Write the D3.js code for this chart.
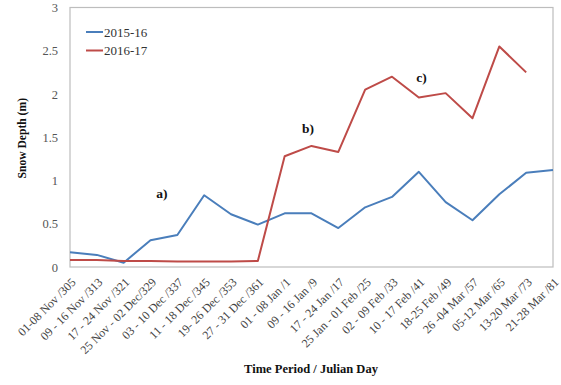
<!DOCTYPE html>
<html>
<head>
<meta charset="utf-8">
<script src="https://cdn.jsdelivr.net/npm/d3@7"></script>
<style>
  html, body { margin: 0; padding: 0; background: #fff; }
  svg { display: block; }
</style>
</head>
<body>
<svg id="chart" width="561" height="385" font-family="Liberation Serif, Times New Roman, serif"></svg>
<script>
// Weekly periods with Julian day of the period start
const periods = [
  "01-08 Nov /305", "09 - 16 Nov /313", "17 - 24 Nov /321", "25 Nov - 02 Dec/329",
  "03 - 10 Dec /337", "11 - 18 Dec /345", "19- 26 Dec /353", "27 - 31 Dec /361",
  "01 - 08 Jan /1", "09 - 16 Jan /9", "17 - 24 Jan /17", "25 Jan - 01 Feb /25",
  "02 - 09 Feb /33", "10 - 17 Feb /41", "18-25 Feb /49", "26 -04 Mar /57",
  "05-12 Mar /65", "13-20 Mar /73", "21-28 Mar /81"
];

// Snow depth (m), winter 2015-16
const depth2015 = [0.17, 0.14, 0.05, 0.31, 0.37, 0.83, 0.61, 0.49, 0.62, 0.62,
                   0.45, 0.69, 0.81, 1.10, 0.75, 0.54, 0.84, 1.09, 1.12];

// Snow depth (m), winter 2016-17 (no value for the last period)
const depth2016 = [0.08, 0.08, 0.07, 0.07, 0.065, 0.065, 0.065, 0.07, 1.28, 1.40,
                   1.33, 2.05, 2.20, 1.96, 2.01, 1.72, 2.55, 2.25, null];

const yTicks = [0, 0.5, 1, 1.5, 2, 2.5, 3];
const seriesNames = ["2015-16", "2016-17"];
const seriesColors = ["#4a7ebb", "#be4b48"];

// Labels marking stages in the season: [text, category index, depth]
const stageLabels = [["a)", 3.42, 0.80], ["b)", 8.87, 1.55], ["c)", 13.1, 2.14]];

const FONT = '"Liberation Serif", "Times New Roman", serif';
const svg = d3.select("#chart");
const plotL = 70, plotR = 553, plotT = 7.5, plotB = 267;

const x = d3.scalePoint().domain(periods).range([plotL, plotR]).padding(0);
const y = d3.scaleLinear().domain([0, 3]).range([plotB, plotT]);

// Plot frame
svg.append("rect")
  .attr("x", plotL).attr("y", plotT)
  .attr("width", plotR - plotL).attr("height", plotB - plotT)
  .attr("fill", "none").attr("stroke", "#bdbdbd").attr("stroke-width", 1.2);

// Y axis
const yAxis = svg.append("g")
  .attr("transform", `translate(${plotL},0)`)
  .call(d3.axisLeft(y).tickValues(yTicks).tickSize(0).tickPadding(12)
    .tickFormat(d => String(d)));
yAxis.attr("font-family", FONT);
yAxis.select(".domain").remove();
yAxis.selectAll("text")
  .attr("font-size", 12.5).attr("fill", "#555")
  .style("font-family", FONT);

// X axis with rotated labels
const xAxis = svg.append("g")
  .attr("transform", `translate(0,${plotB})`)
  .call(d3.axisBottom(x).tickSize(0).tickPadding(0));
xAxis.attr("font-family", FONT);
xAxis.select(".domain").remove();
xAxis.selectAll("text")
  .attr("font-size", 12).attr("fill", "#444")
  .style("font-family", FONT)
  .attr("text-anchor", "end")
  .attr("dy", null).attr("y", null)
  .attr("transform", "translate(6,16) rotate(-45)");

// Series lines
const line = d3.line()
  .defined(d => d != null)
  .x((d, i) => x(periods[i]))
  .y(d => y(d));

[depth2015, depth2016].forEach((vals, k) => {
  svg.append("path")
    .datum(vals)
    .attr("fill", "none")
    .attr("stroke", seriesColors[k])
    .attr("stroke-width", 2)
    .attr("stroke-linejoin", "round")
    .attr("d", line);
});

// Stage labels
const step = x.step();
stageLabels.forEach(([t, idx, v]) => {
  svg.append("text")
    .attr("x", plotL + idx * step)
    .attr("y", y(v))
    .attr("text-anchor", "middle")
    .style("font-family", FONT)
    .attr("font-size", 13.5).attr("font-weight", "bold").attr("fill", "#111")
    .text(t);
});

// Legend
const legend = svg.append("g");
seriesNames.forEach((name, k) => {
  const ly = 32 + k * 18.5;
  legend.append("line")
    .attr("x1", 86).attr("x2", 103).attr("y1", ly).attr("y2", ly)
    .attr("stroke", seriesColors[k]).attr("stroke-width", 2);
  legend.append("text")
    .attr("x", 104).attr("y", ly + 4.5)
    .style("font-family", FONT)
    .attr("font-size", 13).attr("fill", "#333")
    .text(name);
});

// Axis titles
svg.append("text")
  .attr("transform", `translate(26,${(plotT + plotB) / 2 + 1}) rotate(-90)`)
  .attr("text-anchor", "middle")
  .style("font-family", FONT)
  .attr("font-size", 11.6).attr("font-weight", "bold").attr("fill", "#111")
  .text("Snow Depth (m)");

svg.append("text")
  .attr("x", 311).attr("y", 373)
  .attr("text-anchor", "middle")
  .style("font-family", FONT)
  .attr("font-size", 12.5).attr("font-weight", "bold").attr("fill", "#111")
  .text("Time Period / Julian Day");
</script>
</body>
</html>
